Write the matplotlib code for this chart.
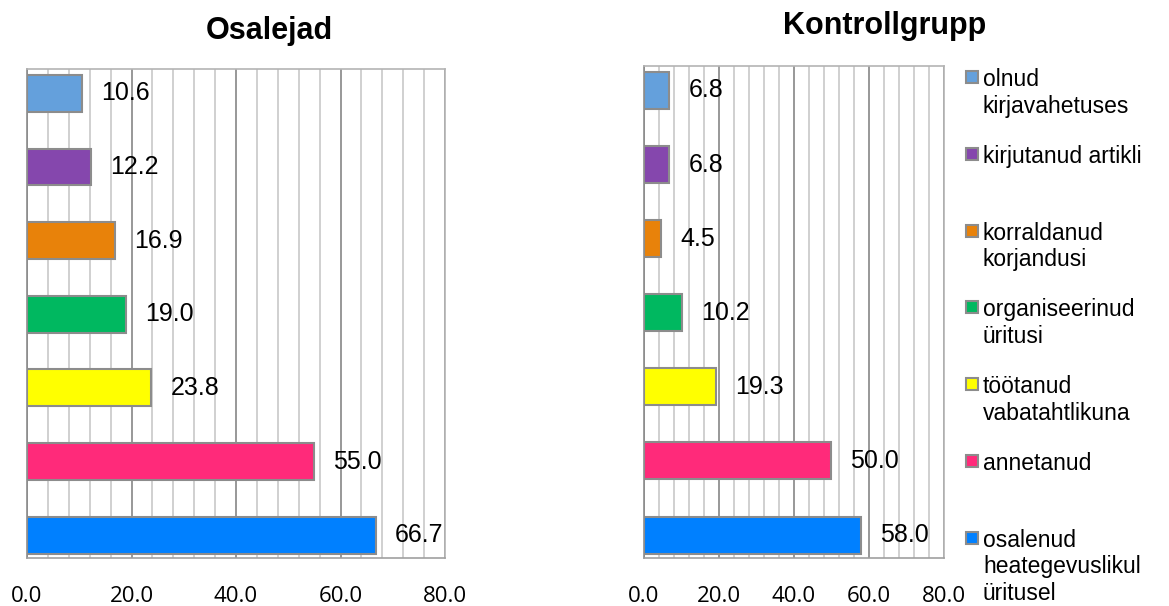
import matplotlib
matplotlib.use("Agg")
import matplotlib.pyplot as plt
from matplotlib.ticker import MultipleLocator, FormatStrFormatter
from matplotlib.patches import Rectangle

plt.rcParams['font.family'] = ['Liberation Sans', 'DejaVu Sans']

# bottom to top, same order as the bars
categories = ["osalenud\nheategevuslikul\nüritusel", "annetanud", "töötanud\nvabatahtlikuna",
              "organiseerinud\nüritusi", "korraldanud\nkorjandusi", "kirjutanud artikli",
              "olnud\nkirjavahetuses"]
colors = ["#0080FF", "#FF2A7A", "#FFFF00", "#00B860", "#E8820A", "#8547AD", "#64A0DC"]
osalejad = [66.7, 55.0, 23.8, 19.0, 16.9, 12.2, 10.6]
kontroll = [58.0, 50.0, 19.3, 10.2, 4.5, 6.8, 6.8]
titles = ["Osalejad", "Kontrollgrupp"]

fig = plt.figure(figsize=(11.69, 6.06), dpi=100)
ax1 = fig.add_axes([0.0231, 0.0792, 0.3576, 0.8069])
ax2 = fig.add_axes([0.5509, 0.0792, 0.2566, 0.8119])

for ax, vals in ((ax1, osalejad), (ax2, kontroll)):
    pos = range(len(vals))
    ax.barh(pos, vals, height=0.5, color=colors, edgecolor="#8C8C8C", linewidth=1.5, zorder=3)
    for p, v in zip(pos, vals):
        ax.annotate(f"{v:.1f}", (v, p), xytext=(19, 0), textcoords="offset pixels",
                    va="center", ha="left", fontsize=18, zorder=4)
    ax.set_xlim(0, 80)
    ax.set_ylim(-0.31, 6.33)
    ax.xaxis.set_major_locator(MultipleLocator(20))
    ax.xaxis.set_minor_locator(MultipleLocator(4))
    ax.xaxis.set_major_formatter(FormatStrFormatter('%.1f'))
    ax.grid(which="minor", axis="x", color="#C8C8C8", linewidth=1.2, zorder=0)
    ax.grid(which="major", axis="x", color="#868686", linewidth=1.2, zorder=1)
    ax.set_yticks([])
    ax.tick_params(axis="x", which="both", length=0, pad=20)
    for lbl in ax.get_xticklabels():
        lbl.set_family(["Open Sans", "DejaVu Sans"])
        lbl.set_fontsize(16)
    for s in ax.spines.values():
        s.set_color("#B4B4B4")
        s.set_linewidth(1.2)
    ax.spines["left"].set_color("#8C8C8C")
    ax.spines["bottom"].set_color("#A0A0A0")

fig.text(269 / 1169, 1 - 31 / 606, titles[0], ha="center", va="center", fontsize=22, fontweight="bold")
fig.text(885 / 1169, 1 - 26 / 606, titles[1], ha="center", va="center", fontsize=22, fontweight="bold")

# legend, top entry first
W, H = 1169, 606
y0, step = 77, 76.8
for i, (cat, col) in enumerate(zip(categories[::-1], colors[::-1])):
    yc = y0 + i * step
    fig.patches.append(Rectangle((966 / W, 1 - (yc + 6) / H), 12 / W, 12 / H,
                                 transform=fig.transFigure, facecolor=col,
                                 edgecolor="#8C8C8C", linewidth=1.5))
    fig.text(983 / W, 1 - (yc - 9) / H, cat, ha="left", va="top", fontsize=16.5, linespacing=1.2)

fig.savefig("out.png", dpi=100)
